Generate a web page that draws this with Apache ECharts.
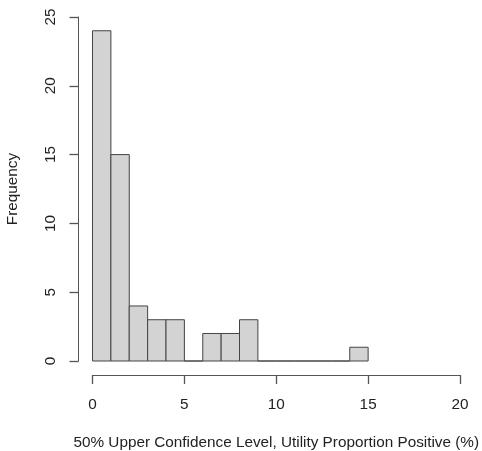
<!DOCTYPE html>
<html>
<head>
<meta charset="utf-8">
<script src="https://cdn.jsdelivr.net/npm/echarts@6/dist/echarts.min.js"></script>
<style>
  html, body { margin: 0; padding: 0; background: #fff; }
  #main { width: 482px; height: 451px; }
</style>
</head>
<body>
<div id="main"></div>
<script>
// histogram bins (width 1) and counts
const binStarts = [0, 1, 2, 3, 4, 5, 6, 7, 8, 9, 10, 11, 12, 13, 14];
const binWidth = 1;
const counts = [24, 15, 4, 3, 3, 0, 2, 2, 3, 0, 0, 0, 0, 0, 1];
const xTicks = [0, 5, 10, 15, 20];
const yTicks = [0, 5, 10, 15, 20, 25];

const axisColor = '#555';
const textColor = '#222';
const font = 'Liberation Sans, Arial, sans-serif';

const chart = echarts.init(document.getElementById('main'));
chart.setOption({
  animation: false,
  grid: { left: 92.5, right: 22, top: 17, bottom: 90, outerBoundsMode: 'none', containLabel: false },
  xAxis: {
    type: 'value',
    min: xTicks[0],
    max: xTicks[xTicks.length - 1],
    interval: 5,
    offset: 14,
    splitLine: { show: false },
    axisLine: { show: true, onZero: false, lineStyle: { color: axisColor, width: 1 } },
    axisTick: { show: true, length: 9, lineStyle: { color: axisColor, width: 1.3 } },
    axisLabel: { color: textColor, fontSize: 15.3, fontFamily: font, margin: 22 },
    name: '50% Upper Confidence Level, Utility Proportion Positive (%)',
    nameLocation: 'middle',
    nameGap: 60,
    nameTextStyle: { color: textColor, fontSize: 15.3, fontFamily: font }
  },
  yAxis: {
    type: 'value',
    min: yTicks[0],
    max: yTicks[yTicks.length - 1],
    interval: 5,
    offset: 14,
    splitLine: { show: false },
    axisLine: { show: true, onZero: false, lineStyle: { color: axisColor, width: 1 } },
    axisTick: { show: true, length: 9, lineStyle: { color: axisColor, width: 1.3 } },
    axisLabel: { color: textColor, fontSize: 15.3, fontFamily: font, rotate: 90, margin: 20 },
    name: 'Frequency',
    nameLocation: 'middle',
    nameGap: 58,
    nameTextStyle: { color: textColor, fontSize: 15.3, fontFamily: font }
  },
  series: [{
    type: 'custom',
    data: binStarts.map((s, i) => [s, s + binWidth, counts[i]]),
    encode: { x: [0, 1], y: 2 },
    renderItem: function (params, api) {
      const p0 = api.coord([api.value(0), api.value(2)]);
      const p1 = api.coord([api.value(1), 0]);
      return {
        type: 'rect',
        shape: { x: p0[0], y: p0[1], width: p1[0] - p0[0], height: p1[1] - p0[1] },
        style: { fill: '#d3d3d3', stroke: '#444', lineWidth: 1 }
      };
    }
  }]
});
</script>
</body>
</html>
